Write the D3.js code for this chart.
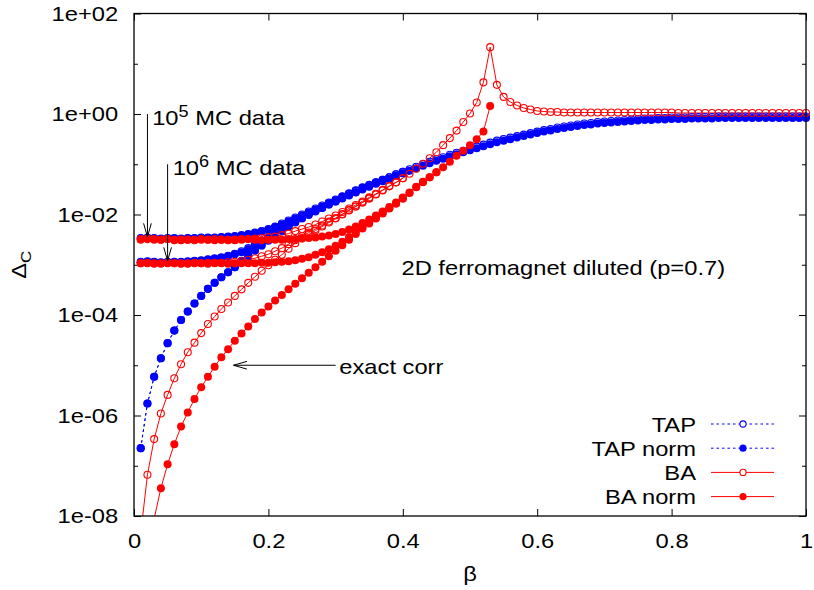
<!DOCTYPE html>
<html><head><meta charset="utf-8">
<script src="https://cdn.jsdelivr.net/npm/d3@7"></script>
<style>
body{margin:0;background:#fff;}
svg{display:block;}
</style></head><body>
<svg id="chart" width="814" height="590"></svg>
<script>
// ---- data (Delta_C values given as log10) ----
const beta = [0.01,0.02,0.03,0.04,0.05,0.06,0.07,0.08,0.09,0.10,
0.11,0.12,0.13,0.14,0.15,0.16,0.17,0.18,0.19,0.20,
0.21,0.22,0.23,0.24,0.25,0.26,0.27,0.28,0.29,0.30,
0.31,0.32,0.33,0.34,0.35,0.36,0.37,0.38,0.39,0.40,
0.41,0.42,0.43,0.44,0.45,0.46,0.47,0.48,0.49,0.50,
0.51,0.52,0.53,0.54,0.55,0.56,0.57,0.58,0.59,0.60,
0.61,0.62,0.63,0.64,0.65,0.66,0.67,0.68,0.69,0.70,
0.71,0.72,0.73,0.74,0.75,0.76,0.77,0.78,0.79,0.80,
0.81,0.82,0.83,0.84,0.85,0.86,0.87,0.88,0.89,0.90,
0.91,0.92,0.93,0.94,0.95,0.96,0.97,0.98,0.99,1.00];

// exact correlations
const log10_TAP_exact = [-6.65,-5.76,-5.23,-4.86,-4.56,-4.31,-4.10,-3.93,-3.77,-3.62,
-3.48,-3.36,-3.25,-3.15,-3.05,-2.92,-2.81,-2.70,-2.60,-2.50,
-2.40,-2.31,-2.22,-2.14,-2.06,-1.99,-1.92,-1.85,-1.78,-1.72,
-1.65,-1.59,-1.53,-1.47,-1.42,-1.36,-1.31,-1.26,-1.20,-1.15,
-1.10,-1.05,-1.00,-0.95,-0.90,-0.86,-0.81,-0.77,-0.73,-0.69,
-0.65,-0.61,-0.57,-0.53,-0.50,-0.47,-0.44,-0.41,-0.38,-0.35,
-0.32,-0.30,-0.27,-0.25,-0.23,-0.21,-0.19,-0.18,-0.16,-0.15,
-0.14,-0.13,-0.12,-0.11,-0.10,-0.09,-0.09,-0.08,-0.08,-0.07,
-0.07,-0.07,-0.06,-0.06,-0.06,-0.06,-0.05,-0.05,-0.05,-0.05,
-0.05,-0.05,-0.05,-0.05,-0.05,-0.05,-0.05,-0.05,-0.05,-0.05];
const log10_TAPnorm_exact = [-6.65,-5.76,-5.23,-4.86,-4.56,-4.31,-4.10,-3.93,-3.77,-3.62,
-3.48,-3.36,-3.25,-3.15,-3.05,-2.94,-2.83,-2.72,-2.62,-2.52,
-2.42,-2.33,-2.24,-2.16,-2.08,-2.01,-1.94,-1.87,-1.80,-1.74,
-1.68,-1.62,-1.56,-1.50,-1.45,-1.39,-1.34,-1.29,-1.23,-1.18,
-1.13,-1.08,-1.03,-0.98,-0.93,-0.89,-0.84,-0.80,-0.76,-0.72,
-0.68,-0.64,-0.60,-0.56,-0.53,-0.50,-0.47,-0.44,-0.41,-0.38,
-0.35,-0.33,-0.30,-0.28,-0.26,-0.24,-0.22,-0.21,-0.19,-0.18,
-0.17,-0.16,-0.15,-0.14,-0.13,-0.12,-0.12,-0.11,-0.11,-0.10,
-0.10,-0.10,-0.09,-0.09,-0.09,-0.09,-0.08,-0.08,-0.08,-0.08,
-0.08,-0.08,-0.08,-0.08,-0.08,-0.08,-0.08,-0.08,-0.08,-0.08];
const log10_BA_exact = [-8.35,-7.18,-6.47,-5.96,-5.59,-5.26,-4.98,-4.74,-4.55,-4.36,
-4.18,-4.03,-3.88,-3.75,-3.62,-3.49,-3.36,-3.24,-3.12,-3.01,
-2.90,-2.80,-2.68,-2.57,-2.48,-2.40,-2.32,-2.24,-2.16,-2.08,
-2.00,-1.92,-1.84,-1.76,-1.68,-1.60,-1.52,-1.44,-1.36,-1.28,
-1.19,-1.09,-0.99,-0.88,-0.76,-0.62,-0.48,-0.33,-0.16,0.01,
0.23,0.63,1.33,0.58,0.34,0.24,0.17,0.12,0.09,0.06,
0.05,0.04,0.04,0.03,0.03,0.03,0.03,0.03,0.03,0.03,
0.03,0.03,0.03,0.03,0.03,0.03,0.03,0.03,0.03,0.03,
0.02,0.02,0.02,0.02,0.02,0.02,0.02,0.02,0.02,0.02,
0.02,0.02,0.02,0.02,0.02,0.02,0.02,0.02,0.02,0.02];
const log10_BAnorm_exact = [-10.5,-9.1,-8.05,-7.45,-6.97,-6.57,-6.22,-5.94,-5.67,-5.44,
-5.23,-5.03,-4.84,-4.68,-4.51,-4.37,-4.23,-4.08,-3.95,-3.83,
-3.71,-3.60,-3.49,-3.38,-3.27,-3.16,-3.05,-2.94,-2.83,-2.72,
-2.61,-2.50,-2.39,-2.28,-2.18,-2.08,-1.98,-1.88,-1.78,-1.68,
-1.57,-1.46,-1.36,-1.26,-1.16,-1.06,-0.95,-0.83,-0.73,-0.62,
-0.50,-0.35,0.16];

// 10^5 MC samples
const log10_TAP_mc5 = [-2.47,-2.46,-2.47,-2.48,-2.47,-2.47,-2.48,-2.47,-2.47,-2.46,
-2.46,-2.46,-2.45,-2.44,-2.43,-2.41,-2.39,-2.36,-2.33,-2.29,
-2.24,-2.18,-2.12,-2.06,-2.00,-1.94,-1.88,-1.82,-1.76,-1.70,
-1.64,-1.58,-1.52,-1.46,-1.41,-1.36,-1.31,-1.26,-1.20,-1.15];
const log10_TAPnorm_mc5 = [-2.48,-2.47,-2.48,-2.49,-2.48,-2.48,-2.49,-2.48,-2.48,-2.47,
-2.47,-2.47,-2.46,-2.45,-2.44,-2.42,-2.40,-2.37,-2.34,-2.30,
-2.25,-2.20,-2.14,-2.08,-2.02,-1.96,-1.90,-1.84,-1.78,-1.72,
-1.66,-1.61,-1.55,-1.49,-1.44,-1.38,-1.33,-1.29,-1.23,-1.18];
const log10_BA_mc5 = [-2.50,-2.49,-2.50,-2.50,-2.49,-2.51,-2.50,-2.50,-2.51,-2.50,
-2.50,-2.49,-2.50,-2.51,-2.50,-2.49,-2.49,-2.48,-2.47,-2.45,
-2.44,-2.41,-2.38,-2.33,-2.29,-2.25,-2.20,-2.14,-2.08,-2.02,
-1.95,-1.88,-1.81,-1.74,-1.66,-1.59,-1.51,-1.43,-1.36,-1.28];
const log10_BAnorm_mc5 = [-2.49,-2.48,-2.49,-2.50,-2.49,-2.50,-2.51,-2.50,-2.50,-2.49,
-2.50,-2.51,-2.50,-2.50,-2.51,-2.50,-2.49,-2.50,-2.51,-2.50,
-2.50,-2.50,-2.49,-2.49,-2.47,-2.47,-2.46,-2.44,-2.42,-2.39,
-2.35,-2.30,-2.24,-2.17,-2.10,-2.02,-1.94,-1.85,-1.76,-1.66,
-1.56,-1.45,-1.35,-1.26,-1.16];

// 10^6 MC samples
const log10_TAP_mc6 = [-2.94,-2.93,-2.94,-2.95,-2.94,-2.94,-2.94,-2.93,-2.92,-2.91,
-2.89,-2.87,-2.85,-2.82,-2.78,-2.73,-2.67,-2.60,-2.52,-2.44,
-2.36,-2.28,-2.20,-2.12,-2.05,-1.98,-1.91,-1.85,-1.78,-1.72];
const log10_TAPnorm_mc6 = [-2.95,-2.94,-2.95,-2.96,-2.95,-2.95,-2.95,-2.94,-2.93,-2.92,
-2.90,-2.88,-2.86,-2.83,-2.79,-2.75,-2.69,-2.62,-2.54,-2.46,
-2.38,-2.30,-2.22,-2.14,-2.07,-2.00,-1.93,-1.87,-1.80,-1.74];
const log10_BA_mc6 = [-2.97,-2.97,-2.98,-2.97,-2.96,-2.97,-2.97,-2.98,-2.97,-2.97,
-2.96,-2.96,-2.96,-2.95,-2.94,-2.93,-2.90,-2.87,-2.83,-2.79,
-2.73,-2.67,-2.59,-2.51,-2.43,-2.36,-2.29,-2.22,-2.14,-2.07,
-1.99,-1.91,-1.84,-1.76,-1.68];
const log10_BAnorm_mc6 = [-2.97,-2.96,-2.97,-2.98,-2.97,-2.97,-2.98,-2.97,-2.96,-2.97,
-2.98,-2.97,-2.97,-2.98,-2.97,-2.97,-2.97,-2.97,-2.96,-2.96,
-2.95,-2.94,-2.93,-2.91,-2.88,-2.85,-2.80,-2.75,-2.69,-2.62,
-2.54,-2.45,-2.35,-2.25,-2.16,-2.07,-1.97,-1.87,-1.78,-1.68];

const xTickValues = [0,0.2,0.4,0.6,0.8,1];
const yMajorTicks = [1e-8,1e-6,1e-4,1e-2,1,1e2];
const yMinorTicks = [1e-7,1e-5,1e-3,1e-1,1e1];
const legendLabels = ["TAP","TAP norm","BA","BA norm"];

// ---- drawing ----
const BLUE = "#0000ff", RED = "#ff0000";
const FONT = "'Liberation Sans', Arial, Helvetica, sans-serif";
const FS = 21, SX = 1.13;
const RF = 4.0, RO = 3.5;
const L = 134, R = 806, T = 13.5, B = 516;
const svg = d3.select("#chart");
const x = d3.scaleLinear().domain([0,1]).range([L,R]);
const y = d3.scaleLog().domain([1e-8,1e2]).range([B,T]);

svg.append("defs").append("clipPath").attr("id","clip")
  .append("rect").attr("x",L).attr("y",T).attr("width",R-L).attr("height",B-T);

const toPts = arr => arr.map((v,i) => ({b: beta[i], v: Math.pow(10, v)}));
const mk = (arr, color, filled, dashed) => ({pts: toPts(arr), color, filled, dashed});

const series = [
  mk(log10_TAP_exact, BLUE, false, true),
  mk(log10_TAPnorm_exact, BLUE, true, true),
  mk(log10_TAP_mc5, BLUE, false, true),
  mk(log10_TAPnorm_mc5, BLUE, true, true),
  mk(log10_TAP_mc6, BLUE, false, true),
  mk(log10_TAPnorm_mc6, BLUE, true, true),
  mk(log10_BA_exact, RED, false, false),
  mk(log10_BAnorm_exact, RED, true, false),
  mk(log10_BA_mc5, RED, false, false),
  mk(log10_BAnorm_mc5, RED, true, false),
  mk(log10_BA_mc6, RED, false, false),
  mk(log10_BAnorm_mc6, RED, true, false)
];

// axes
const fmtY = v => { const e = Math.round(Math.log10(v)); return "1e" + (e < 0 ? "-" : "+") + String(Math.abs(e)).padStart(2,"0"); };
function styleAxis(g){
  g.select(".domain").remove();
  g.selectAll("line").attr("stroke","#000").attr("stroke-width",1);
  g.attr("font-family",FONT).attr("font-size",FS);
  g.selectAll("text").attr("fill","#000").attr("transform",`scale(${SX},1)`);
}
svg.append("g").attr("transform",`translate(${L},0)`)
  .call(d3.axisLeft(y).tickValues(yMajorTicks).tickFormat(fmtY).tickSizeInner(-7).tickSizeOuter(0).tickPadding(14))
  .call(styleAxis);
svg.append("g").attr("transform",`translate(${L},0)`)
  .call(d3.axisLeft(y).tickValues(yMinorTicks).tickFormat("").tickSizeInner(-4).tickSizeOuter(0))
  .call(styleAxis);
svg.append("g").attr("transform",`translate(${R},0)`)
  .call(d3.axisRight(y).tickValues(yMajorTicks).tickFormat("").tickSizeInner(-7).tickSizeOuter(0))
  .call(styleAxis);
svg.append("g").attr("transform",`translate(${R},0)`)
  .call(d3.axisRight(y).tickValues(yMinorTicks).tickFormat("").tickSizeInner(-4).tickSizeOuter(0))
  .call(styleAxis);
svg.append("g").attr("transform",`translate(0,${B})`)
  .call(d3.axisBottom(x).tickValues(xTickValues).tickFormat(d3.format("")).tickSizeInner(-7).tickSizeOuter(0).tickPadding(17))
  .call(styleAxis);
svg.append("g").attr("transform",`translate(0,${T})`)
  .call(d3.axisTop(x).tickValues(xTickValues).tickFormat("").tickSizeInner(-7).tickSizeOuter(0))
  .call(styleAxis);

// series
const line = d3.line().x(d => x(d.b)).y(d => y(d.v));
const plot = svg.append("g");
const lines = plot.append("g").attr("clip-path","url(#clip)");
series.forEach(s => {
  lines.append("path").attr("d", line(s.pts)).attr("fill","none")
    .attr("stroke", s.color).attr("stroke-width",1)
    .attr("stroke-dasharray", s.dashed ? "2.5,3" : null);
  plot.append("g").selectAll("circle")
    .data(s.pts.filter(d => d.v >= 1e-8 && d.v <= 1e2))
    .join("circle")
    .attr("cx", d => x(d.b)).attr("cy", d => y(d.v))
    .attr("r", s.filled ? RF : RO)
    .attr("fill", s.filled ? s.color : "none")
    .attr("stroke", s.color).attr("stroke-width", s.filled ? 0 : 1.1);
});

// frame
svg.append("rect").attr("x",L).attr("y",T).attr("width",R-L).attr("height",B-T)
  .attr("fill","none").attr("stroke","#000").attr("stroke-width",1.3);

// text helper
function txt(px, py, anchor, parts, extra){
  const t = svg.append("text").attr("font-family",FONT).attr("font-size",FS)
    .attr("fill","#000").attr("text-anchor",anchor)
    .attr("transform",`translate(${px},${py}) ${extra||""} scale(${SX},1)`);
  parts.forEach(p => {
    const ts = t.append("tspan").text(p.t);
    if (p.size) ts.attr("font-size", p.size);
    if (p.dy) ts.attr("dy", p.dy);
  });
  return t;
}

// axis titles
txt((L+R)/2, 581, "middle", [{t:"β"}]);
txt(26, (T+B)/2, "middle", [{t:"Δ"},{t:"C",size:15,dy:5}], "rotate(-90)");

// arrows (open V heads)
function arrow(x1,y1,x2,y2){
  const g = svg.append("g").attr("stroke","#000").attr("stroke-width",1).attr("fill","none");
  g.append("line").attr("x1",x1).attr("y1",y1).attr("x2",x2).attr("y2",y2);
  const a = Math.atan2(y2-y1, x2-x1), len = 14, w = 0.28;
  [a+Math.PI-w, a+Math.PI+w].forEach(t =>
    g.append("line").attr("x1",x2).attr("y1",y2)
      .attr("x2",x2+len*Math.cos(t)).attr("y2",y2+len*Math.sin(t)));
}
arrow(x(0.02), y(1), x(0.02), y(3.6e-3));
arrow(x(0.05), y(0.1), x(0.05), y(1.2e-3));
arrow(x(0.30), y(1e-5), x(0.148), y(1e-5));

// annotations
txt(x(0.027), y(0.61), "start", [{t:"10"},{t:"5",size:16,dy:-8},{t:" MC data",dy:8}]);
txt(x(0.0575), y(0.062), "start", [{t:"10"},{t:"6",size:16,dy:-8},{t:" MC data",dy:8}]);
txt(x(0.3055), y(6.7e-6), "start", [{t:"exact corr"}]);
txt(x(0.398), y(6.2e-4), "start", [{t:"2D ferromagnet diluted (p=0.7)"}]);

// legend
const legRows = [
  {label: legendLabels[0], color: BLUE, filled: false, dashed: true},
  {label: legendLabels[1], color: BLUE, filled: true, dashed: true},
  {label: legendLabels[2], color: RED, filled: false, dashed: false},
  {label: legendLabels[3], color: RED, filled: true, dashed: false}
];
legRows.forEach((r,i) => {
  const cy = 424 + i*24.2;
  txt(696, cy+7.5, "end", [{t:r.label}]);
  svg.append("line").attr("x1",711).attr("x2",774).attr("y1",cy).attr("y2",cy)
    .attr("stroke",r.color).attr("stroke-width",1)
    .attr("stroke-dasharray", r.dashed ? "2.5,3" : null);
  svg.append("circle").attr("cx",743).attr("cy",cy).attr("r", r.filled ? 3.6 : 3.1)
    .attr("fill", r.filled ? r.color : "#fff").attr("stroke", r.color)
    .attr("stroke-width", r.filled ? 0 : 1.1);
});
</script>
</body></html>
